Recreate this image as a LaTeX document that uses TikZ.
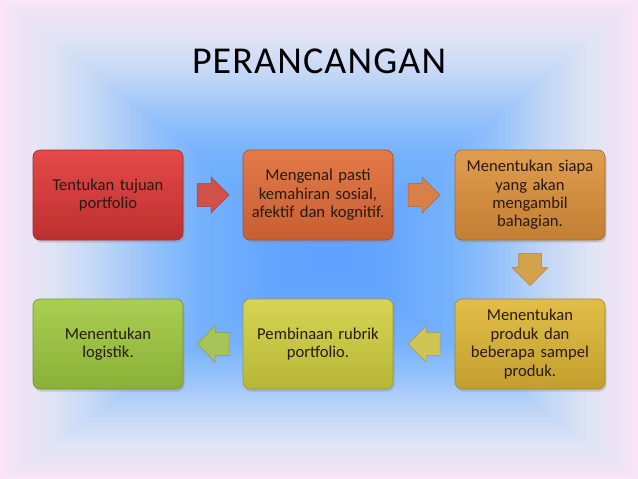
\documentclass[tikz,border=0pt]{standalone}
\usepackage{fontspec}
\setmainfont{Carlito}
\usetikzlibrary{calc,shadows}
\definecolor{txt}{RGB}{40,26,18}
\definecolor{g0}{RGB}{250,228,246}
\definecolor{g1}{RGB}{240,228,246}
\definecolor{g2}{RGB}{224,228,245}
\definecolor{g3}{RGB}{192,214,246}
\definecolor{g4}{RGB}{150,194,250}
\definecolor{g5}{RGB}{118,178,252}
\definecolor{g6}{RGB}{102,166,255}
\definecolor{g7}{RGB}{96,160,255}
\definecolor{redT}{RGB}{228,74,72}\definecolor{redB}{RGB}{188,48,48}
\definecolor{oraT}{RGB}{228,122,72}\definecolor{oraB}{RGB}{198,94,50}
\definecolor{ambT}{RGB}{224,158,80}\definecolor{ambB}{RGB}{194,126,50}
\definecolor{golT}{RGB}{226,190,72}\definecolor{golB}{RGB}{194,158,46}
\definecolor{ylgT}{RGB}{214,212,82}\definecolor{ylgB}{RGB}{184,182,54}
\definecolor{grnT}{RGB}{170,206,82}\definecolor{grnB}{RGB}{138,176,54}
\definecolor{ar1}{RGB}{210,80,74}
\definecolor{ar2}{RGB}{217,128,72}
\definecolor{ar3}{RGB}{212,162,74}
\definecolor{ar4}{RGB}{208,196,84}
\definecolor{ar5}{RGB}{168,196,88}
\tikzset{
  box/.style n args={2}{rounded corners=7pt, minimum width=150pt, minimum height=90pt,
    align=center, text width=148pt, inner sep=0pt, font=\fontsize{16.6}{18.4}\selectfont, text=txt,
    draw=#2!85!black, line width=0.6pt, top color=#1, bottom color=#2,
    drop shadow={opacity=0.3, shadow xshift=1.5pt, shadow yshift=-2.5pt}},
  blockarrow/.pic={\filldraw[pic actions, line width=0.5pt] (-16,-11.5) -- (-2,-11.5) -- (-2,-18) -- (16,0) -- (-2,18) -- (-2,11.5) -- (-16,11.5) -- cycle;}
}
\begin{document}
\begin{tikzpicture}[x=1pt,y=-1pt]
\useasboundingbox (0,0) rectangle (638,479);
% rectangular background gradient, centre near (330,255)
\foreach \ta/\tb/\ca/\cb/\n in {0/0.04/g0/g1/5, 0.04/0.15/g1/g2/12, 0.15/0.3/g2/g3/16, 0.3/0.45/g3/g4/16, 0.45/0.6/g4/g5/16, 0.6/0.8/g5/g6/12, 0.8/1/g6/g7/8}{
  \foreach \k in {1,...,\n}{
    \pgfmathsetmacro{\f}{(\k-1)/\n}
    \pgfmathsetmacro{\t}{\ta+(\tb-\ta)*\f}
    \pgfmathsetmacro{\p}{100*\f}
    \colorlet{bgtmp}{\cb!\p!\ca}
    \fill[bgtmp] ({\t*330},{\t*255}) rectangle ({638-\t*308},{479-\t*224});
  }
}
\node (title) at (319,61) {\fontsize{38}{40}\selectfont\addfontfeature{LetterSpace=3}PERANCANGAN};
\node[box={redT}{redB}] (b1) at (108,195) {Tentukan tujuan\\portfolio};
\node[box={oraT}{oraB}] (b2) at (318,195) {Mengenal pasti\\kemahiran sosial,\\afektif dan kognitif.};
\node[box={ambT}{ambB}] (b3) at (530,195) {Menentukan siapa\\yang akan\\mengambil\\bahagian.};
\node[box={golT}{golB}] (b5) at (530,344) {Menentukan\\produk dan\\beberapa sampel\\produk.};
\node[box={ylgT}{ylgB}] (b6) at (318,344) {Pembinaan rubrik\\portfolio.};
\node[box={grnT}{grnB}] (b4) at (108,344) {Menentukan\\logistik.};
\coordinate (a1) at ($(b1.east)!0.5!(b2.west)$);
\coordinate (a2) at ($(b2.east)!0.5!(b3.west)$);
\coordinate (a3) at ($(b3.south)!0.5!(b5.north)$);
\coordinate (a4) at ($(b5.west)!0.5!(b6.east)$);
\coordinate (a5) at ($(b6.west)!0.5!(b4.east)$);
\pic[fill=ar1, draw=ar1!80!black] at (a1) {blockarrow};
\pic[fill=ar2, draw=ar2!80!black] at (a2) {blockarrow};
\pic[fill=ar3, draw=ar3!80!black, rotate=-90] at (a3) {blockarrow};
\pic[fill=ar4, draw=ar4!80!black, rotate=180] at (a4) {blockarrow};
\pic[fill=ar5, draw=ar5!80!black, rotate=180] at (a5) {blockarrow};
\end{tikzpicture}
\end{document}
